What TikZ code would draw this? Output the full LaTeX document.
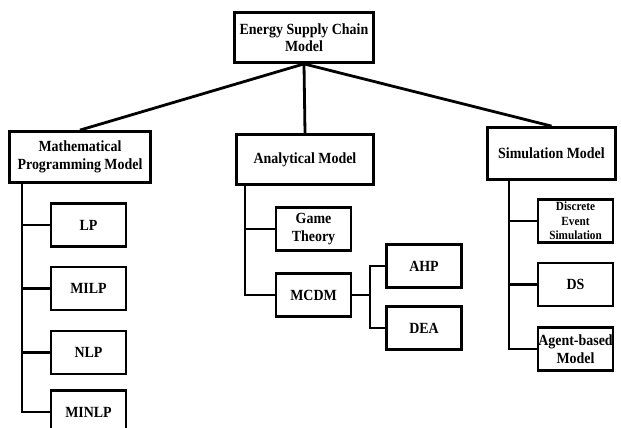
\documentclass[tikz,border=0pt]{standalone}
\usepackage{fontspec}
\setmainfont{Liberation Serif}[FakeStretch=0.9]
\begin{document}
\begin{tikzpicture}[x=1pt,y=-1pt,
  box/.style={draw=black,line width=2.8pt,fill=white,align=center,
    font=\bfseries\fontsize{15.5}{17.5}\selectfont,inner sep=0pt},
  leaf/.style={box,minimum width=75pt,minimum height=43pt},
  small/.style={font=\bfseries\fontsize{12.5}{14.5}\selectfont},
  link/.style={line width=2.8pt}]
\useasboundingbox (0,0) rectangle (621,428);
\clip (0,0) rectangle (621,428);
\fill[white] (0,0) rectangle (621,428);

% root and the three model families
\node[box,minimum width=139pt,minimum height=50pt] (esc) at (304,37.5) {Energy Supply Chain\\Model};
\node[box,minimum width=141pt,minimum height=51pt] (math) at (80,157) {Mathematical\\Programming Model};
\node[box,minimum width=137pt,minimum height=50pt] (ana) at (305,159.5) {Analytical Model};
\node[box,minimum width=128pt,minimum height=52pt] (sim) at (551.5,153.5) {Simulation Model};

\draw[link] (esc.south) -- (math.north);
\draw[link] (esc.south) -- (ana.north);
\draw[link] (esc.south) -- (sim.north);

% mathematical programming branch
\node[leaf] (lp) at (88.5,225) {LP};
\node[leaf] (milp) at (88.5,288.5) {MILP};
\node[leaf] (nlp) at (88.5,352.5) {NLP};
\node[leaf] (minlp) at (88.5,412) {MINLP};
\coordinate (mt) at (22,0);
\draw[link] (math.south -| mt) |- (minlp.west);
\foreach \n in {lp,milp,nlp} \draw[link] (\n.west) -- (\n.west -| mt);

% analytical branch
\node[leaf] (game) at (313.5,229) {Game\\Theory};
\node[leaf] (mcdm) at (313.5,295) {MCDM};
\coordinate (at) at (245,0);
\draw[link] (ana.south -| at) |- (mcdm.west);
\draw[link] (game.west) -- (game.west -| at);

\node[leaf] (ahp) at (424,266) {AHP};
\node[leaf] (dea) at (424,328) {DEA};
\coordinate (mc) at (370,0);
\draw[link] (mcdm.east) -- (mcdm.east -| mc);
\draw[link] (ahp.west) -| (mc |- mcdm.east) |- (dea.west);

% simulation branch
\node[leaf,small] (des) at (575.5,221) {Discrete\\Event\\Simulation};
\node[leaf] (ds) at (575.5,284.5) {DS};
\node[leaf] (abm) at (575.5,349) {Agent-based\\Model};
\coordinate (st) at (509,0);
\draw[link] (sim.south -| st) |- (abm.west);
\draw[link] (des.west) -- (des.west -| st);
\draw[link] (ds.west) -- (ds.west -| st);
\end{tikzpicture}
\end{document}
